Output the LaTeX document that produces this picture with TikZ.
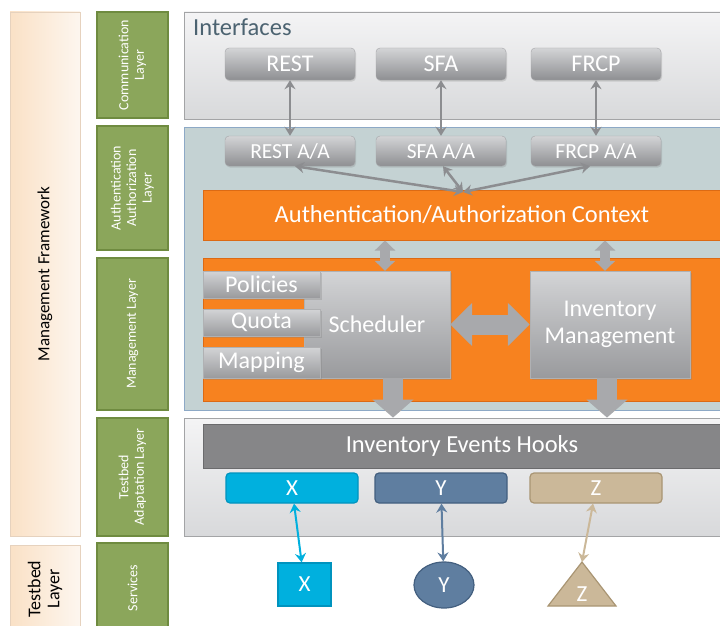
\documentclass[tikz,border=0pt]{standalone}
\usepackage{fontspec}
\setmainfont{Carlito}
\usetikzlibrary{arrows.meta,shadows,shapes.geometric}

\definecolor{laygreen}{HTML}{8BA65B}
\definecolor{laygreenD}{HTML}{6F8B40}
\definecolor{peachL}{HTML}{FDF6EF}
\definecolor{peachD}{HTML}{FAE1C6}
\definecolor{peachB}{HTML}{E6D2BE}
\definecolor{panelL}{HTML}{F4F4F5}
\definecolor{panelD}{HTML}{D8D9DB}
\definecolor{panelB}{HTML}{A3A4A6}
\definecolor{aafill}{HTML}{C4D2D3}
\definecolor{aaborder}{HTML}{8DA9C6}
\definecolor{orng}{HTML}{F7821F}
\definecolor{orngD}{HTML}{DC6A14}
\definecolor{btnL}{HTML}{D3D4D6}
\definecolor{btnD}{HTML}{8E8F92}
\definecolor{agray}{HTML}{8C8D90}
\definecolor{blkgray}{HTML}{A8A9AC}
\definecolor{iehgray}{HTML}{868688}
\definecolor{slate}{HTML}{4C6371}
\definecolor{xcyan}{HTML}{00B0DE}
\definecolor{xcyanD}{HTML}{0093BE}
\definecolor{yblue}{HTML}{5F7EA0}
\definecolor{yblueD}{HTML}{435F7F}
\definecolor{ztan}{HTML}{CBB899}
\definecolor{ztanD}{HTML}{A99573}

\begin{document}
\begin{tikzpicture}[x=1pt, y=-1pt,
  side/.style = {draw=peachB, line width=0.8pt, rotate=90, align=center, left color=peachD, right color=peachL, minimum height=70},
  layer/.style = {draw=laygreenD, line width=1.5pt, fill=laygreen, text=white, rotate=90, align=center,
                  minimum height=71, font=\fontsize{14}{15.5}\selectfont},
  panel/.style = {draw=panelB, line width=0.8pt, top color=panelL, bottom color=panelD, minimum width=541},
  btn/.style = {draw=btnD!80, rounded corners=4pt, top color=btnL, bottom color=btnD, text=white,
                minimum width=130, drop shadow={opacity=0.25, shadow xshift=1pt, shadow yshift=-1.5pt}},
  gbox/.style = {draw=btnD!70, top color=btnL, bottom color=btnD!90, text=white, align=center,
                 font=\fontsize{24}{27}\selectfont, drop shadow={opacity=0.3, shadow xshift=1.5pt, shadow yshift=-1.5pt}},
  obox/.style = {draw=orngD, line width=1pt, fill=orng, text=white, minimum width=518},
  small/.style = {draw, rounded corners=4pt, line width=1.2pt, text=white, minimum width=132, minimum height=30,
                  font=\fontsize{23}{24}\selectfont},
  thin/.style = {line width=2.5pt, {Stealth[length=9pt,width=11pt,inset=3pt]}-{Stealth[length=9pt,width=11pt,inset=3pt]}},
  blk/.style = {draw=blkgray, line width=20pt, -{Triangle[length=18pt,width=40pt]}},
]
\useasboundingbox (0,0) rectangle (720,626);

% left columns
\node[side, minimum width=524, font=\fontsize{17}{19}\selectfont] (mf) at (45,274) {Management Framework};
\node[side, minimum width=88, font=\fontsize{18}{19}\selectfont] (tl) at (45,589) {Testbed\\Layer};

\node[layer, minimum width=106] (comm) at (132.5,65) {Communication\\Layer};
\node[layer, minimum width=124] (authl) at (132.5,188) {Authentication\\Authorization\\Layer};
\node[layer, minimum width=152] (mgmtl) at (132.5,334) {Management Layer};
\node[layer, minimum width=118] (adaptl) at (132.5,477) {Testbed\\Adaptation Layer};
\node[layer, minimum width=90] (servl) at (132.5,588) {Services};

% panels
\node[panel, minimum height=107] (ifc) at (454.5,65.5) {};
\node[text=slate, anchor=north west, inner sep=0pt, font=\fontsize{24.5}{26}\selectfont] (ifclbl) at (193,19) {Interfaces};
\node[draw=aaborder, line width=1pt, fill=aafill, minimum width=541, minimum height=283] (aap) at (454.5,268.5) {};
\node[panel, minimum height=118] (tap) at (454.5,477) {};

% interfaces
\node[btn, minimum height=32, font=\fontsize{24}{25}\selectfont] (rest) at (290,64) {REST};
\node[btn, minimum height=32, font=\fontsize{24}{25}\selectfont] (sfa) at (441,64) {SFA};
\node[btn, minimum height=32, font=\fontsize{24}{25}\selectfont] (frcp) at (596,64) {FRCP};
\node[btn, minimum height=30, font=\fontsize{21.5}{22}\selectfont] (restaa) at (290,151) {REST A/A};
\node[btn, minimum height=30, font=\fontsize{21.5}{22}\selectfont] (sfaaa) at (441,151) {SFA A/A};
\node[btn, minimum height=30, font=\fontsize{21.5}{22}\selectfont] (frcpaa) at (596,151) {FRCP A/A};

% context and management
\node[obox, minimum height=50, font=\fontsize{24.5}{25}\selectfont] (ctx) at (462,215) {Authentication/Authorization Context};
\node[obox, minimum height=143] (mbox) at (462,329.5) {};
\node[gbox, minimum width=146, minimum height=107] (sched) at (377,324.5) {Scheduler};
\node[gbox, minimum width=117, minimum height=27] (pol) at (261.5,284.5) {Policies};
\node[gbox, minimum width=117, minimum height=27] (quota) at (261.5,322.5) {Quota};
\node[gbox, minimum width=117, minimum height=31] (mapp) at (261.5,362.5) {Mapping};
\node[gbox, minimum width=160, minimum height=107] (inv) at (610,324.5) {Inventory\\Management};

% adaptation
\node[draw=iehgray!80!black, line width=1pt, fill=iehgray, text=white, minimum width=518, minimum height=44,
      font=\fontsize{24.5}{25}\selectfont] (ieh) at (462,446) {Inventory Events Hooks};
\node[small, draw=xcyanD, fill=xcyan] (xb) at (292,488) {X};
\node[small, draw=yblueD, fill=yblue] (yb) at (441,488) {Y};
\node[small, draw=ztanD, fill=ztan] (zb) at (596,488) {Z};

% services
\node[draw=xcyanD, line width=1.2pt, fill=xcyan, text=white, minimum width=53, minimum height=43,
      font=\fontsize{23}{24}\selectfont] (xs) at (304.5,584.5) {X};
\node[ellipse, draw=yblueD, line width=1.2pt, fill=yblue, text=white, minimum width=60, minimum height=46,
      inner sep=0pt, font=\fontsize{23}{24}\selectfont] (ys) at (444,585) {Y};
\draw[draw=ztanD, line width=1.2pt, fill=ztan] (548,606) -- (582,562) -- (616,606) -- cycle;
\coordinate (zapex) at (582,562);
\node[text=white, font=\fontsize{23}{24}\selectfont] (zs) at (582,594) {Z};

% arrows
\draw[thin, agray] (rest) -- (restaa);
\draw[thin, agray] (sfa) -- (sfaaa);
\draw[thin, agray] (frcp) -- (frcpaa);
\coordinate (hub) at (463,192);
\draw[thin, agray] ([xshift=5pt]restaa.south) -- (hub);
\draw[thin, agray] ([xshift=2pt]sfaaa.south) -- (hub);
\draw[thin, agray] ([xshift=-6pt]frcpaa.south) -- (hub);

\draw[blk, line width=10pt, {Triangle[length=10pt,width=20pt]}-{Triangle[length=10pt,width=20pt]}]
  ([xshift=8pt]sched.north |- ctx.south) -- ([xshift=8pt]sched.north);
\draw[blk, line width=10pt, {Triangle[length=10pt,width=20pt]}-{Triangle[length=10pt,width=20pt]}]
  ([xshift=-5pt]inv.north |- ctx.south) -- ([xshift=-5pt]inv.north);
\draw[blk, {Triangle[length=22pt,width=42pt]}-{Triangle[length=22pt,width=42pt]}] (sched.east) -- (inv.west);
\draw[blk] ([xshift=16pt]sched.south) -- ([xshift=16pt]sched.south |- tap.north);
\draw[blk] ([xshift=-3pt]inv.south) -- ([xshift=-3pt]inv.south |- tap.north);

\draw[thin, line width=2pt, xcyan] (xb) -- (xs);
\draw[thin, line width=2pt, yblue] (yb) -- (ys);
\draw[thin, line width=2pt, ztan] (zb) -- (zapex);
\end{tikzpicture}
\end{document}
